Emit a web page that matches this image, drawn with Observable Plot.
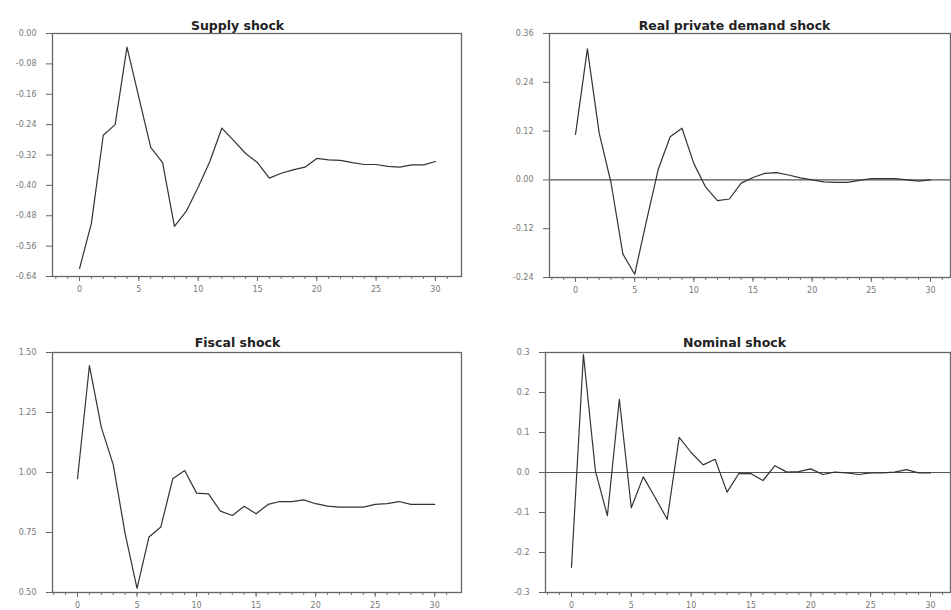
<!DOCTYPE html>
<html>
<head>
<meta charset="utf-8">
<script src="https://cdn.jsdelivr.net/npm/d3@7"></script>
<script src="https://cdn.jsdelivr.net/npm/@observablehq/plot@0.6"></script>
<style>
  html, body { margin: 0; padding: 0; background: #fff; overflow: hidden; }
  #root { position: relative; width: 951px; height: 610px; overflow: hidden; background: #fff; }
  .panel { position: absolute; line-height: 0; }
  .panel svg { max-width: none !important; display: block; }
</style>
</head>
<body>
<div id="root"></div>
<script>
// ---- data ----
const periods = [0,1,2,3,4,5,6,7,8,9,10,11,12,13,14,15,16,17,18,19,20,21,22,23,24,25,26,27,28,29,30];

const supplyShock = [-0.619, -0.500, -0.268, -0.240, -0.036, -0.168, -0.300, -0.340, -0.508, -0.468, -0.405,
  -0.336, -0.249, -0.282, -0.316, -0.340, -0.381, -0.368, -0.359, -0.352, -0.329,
  -0.333, -0.334, -0.340, -0.345, -0.345, -0.350, -0.352, -0.346, -0.346, -0.337];

const realDemandShock = [0.112, 0.322, 0.115, -0.007, -0.182, -0.232, -0.100, 0.027, 0.106, 0.127, 0.040,
  -0.018, -0.051, -0.047, -0.008, 0.006, 0.016, 0.018, 0.012, 0.005, 0.000,
  -0.005, -0.006, -0.006, -0.001, 0.003, 0.003, 0.003, 0.000, -0.003, 0.000];

const fiscalShock = [0.974, 1.445, 1.188, 1.033, 0.745, 0.517, 0.731, 0.773, 0.974, 1.008, 0.914,
  0.911, 0.839, 0.821, 0.859, 0.828, 0.867, 0.879, 0.879, 0.886, 0.870,
  0.860, 0.856, 0.856, 0.856, 0.867, 0.870, 0.879, 0.867, 0.867, 0.867];

const nominalShock = [-0.237, 0.295, 0.004, -0.108, 0.183, -0.088, -0.011, -0.063, -0.117, 0.088, 0.050,
  0.019, 0.033, -0.049, -0.002, -0.003, -0.020, 0.017, 0.001, 0.002, 0.009,
  -0.005, 0.001, -0.001, -0.005, -0.001, -0.001, 0.001, 0.007, -0.001, -0.001];

const titles = ["Supply shock", "Real private demand shock", "Fiscal shock", "Nominal shock"];

const xMajorTicks = [0, 5, 10, 15, 20, 25, 30];
const xMinorTicks = [-2,-1,0,1,2,3,4,5,6,7,8,9,10,11,12,13,14,15,16,17,18,19,20,21,22,23,24,25,26,27,28,29,30,31];

const supplyTicks = [0.00, -0.08, -0.16, -0.24, -0.32, -0.40, -0.48, -0.56, -0.64];
const realDemandTicks = [0.36, 0.24, 0.12, 0.00, -0.12, -0.24];
const fiscalTicks = [1.50, 1.25, 1.00, 0.75, 0.50];
const nominalTicks = [0.3, 0.2, 0.1, 0.0, -0.1, -0.2, -0.3];

// ---- layout ----
const fmt = (digits) => (d) => d.toFixed(digits);

function panel(cfg) {
  const data = periods.map((p, i) => ({p, v: cfg.values[i]}));
  const marginLeft = cfg.fl - cfg.left;
  const marginRight = cfg.left + cfg.width - cfg.fr;
  const marginTop = cfg.ft - cfg.top;
  const marginBottom = cfg.top + cfg.height - cfg.fb;
  const frameCenter = (cfg.fl + cfg.fr) / 2;
  const marks = [
    Plot.axisY({ticks: cfg.yTicks, tickSize: 6, tickPadding: 10, tickFormat: cfg.yFmt,
      label: null, stroke: "#666", fill: "#777", fontSize: 8}),
    Plot.axisX({ticks: xMinorTicks, tickSize: 3, label: null, stroke: "#777", fill: "none", tickFormat: () => ""}),
    Plot.axisX({ticks: xMajorTicks, tickSize: 5, tickPadding: cfg.xPad, label: null, stroke: "#666", fill: "#777",
      fontSize: 8, tickFormat: (d) => String(d)}),
  ];
  if (cfg.zero) marks.push(Plot.ruleY([0], {stroke: "#555", strokeWidth: 1.2}));
  marks.push(
    Plot.line(data, {x: "p", y: "v", stroke: "#333", strokeWidth: 1.2}),
    Plot.frame({stroke: "#666", strokeWidth: 1.3}),
    Plot.text([cfg.title], {text: (d) => d, frameAnchor: "top", dy: cfg.titleDy, dx: cfg.titleX - frameCenter,
      fontWeight: "bold", fontSize: 12.5, fill: "#222", fontFamily: "DejaVu Sans", letterSpacing: 0.4})
  );
  const chart = Plot.plot({
    width: cfg.width, height: cfg.height,
    marginLeft, marginRight, marginTop, marginBottom,
    x: {domain: cfg.xDomain},
    y: {domain: cfg.yDomain},
    style: {fontFamily: "DejaVu Sans", fontSize: "8px", background: "white", overflow: "visible", maxWidth: "none"},
    marks
  });
  const wrap = document.createElement("div");
  wrap.className = "panel";
  wrap.style.left = cfg.left + "px";
  wrap.style.top = cfg.top + "px";
  wrap.style.width = cfg.width + "px";
  wrap.style.height = cfg.height + "px";
  wrap.appendChild(chart);
  document.getElementById("root").appendChild(wrap);
}

panel({title: titles[0], values: supplyShock, yDomain: [-0.64, 0], yTicks: supplyTicks, yFmt: fmt(2),
  xDomain: [-2.28, 32.2], left: 0, top: 0, width: 475, height: 300,
  fl: 52, fr: 461, ft: 33, fb: 276, titleX: 237, titleDy: -12, xPad: 5, zero: false});

panel({title: titles[1], values: realDemandShock, yDomain: [-0.24, 0.36], yTicks: realDemandTicks, yFmt: fmt(2),
  xDomain: [-2.2, 31.69], left: 475, top: 0, width: 476, height: 300,
  fl: 549, fr: 950, ft: 33, fb: 277, titleX: 734, titleDy: -12, xPad: 5, zero: true});

panel({title: titles[2], values: fiscalShock, yDomain: [0.5, 1.5], yTicks: fiscalTicks, yFmt: fmt(2),
  xDomain: [-2.1, 32.25], left: 0, top: 300, width: 475, height: 310,
  fl: 52, fr: 461, ft: 352, fb: 592, titleX: 237, titleDy: -14, xPad: 5, zero: false});

panel({title: titles[3], values: nominalShock, yDomain: [-0.3, 0.3], yTicks: nominalTicks, yFmt: fmt(1),
  xDomain: [-2.17, 31.67], left: 475, top: 300, width: 476, height: 310,
  fl: 545, fr: 950, ft: 352, fb: 592, titleX: 734, titleDy: -14, xPad: 5, zero: true});
</script>
</body>
</html>
